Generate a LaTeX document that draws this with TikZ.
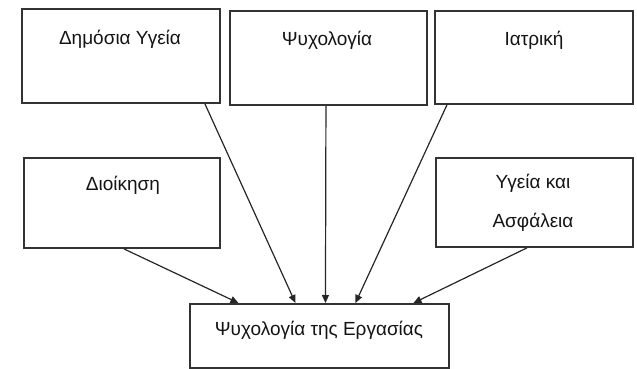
\documentclass[tikz,border=0pt]{standalone}
\usepackage{fontspec}
\setmainfont{Liberation Sans}
\usetikzlibrary{arrows.meta}
\begin{document}
\begin{tikzpicture}[x=1pt,y=-1pt,
  box/.style={draw=black!80, line width=1.9pt, rectangle, inner sep=0pt, anchor=north west},
  lbl/.style={font=\fontsize{19}{23}\selectfont, text=black!92, anchor=base, inner sep=0pt},
  conn/.style={draw=black!85, line width=1.2pt, -{Triangle[length=8pt,width=7pt]}}]
\useasboundingbox (0,0) rectangle (637,369);
\node[box, minimum width=198pt, minimum height=94pt] (A) at (21,8) {};
\node[box, minimum width=197pt, minimum height=94pt] (B) at (229,10) {};
\node[box, minimum width=198pt, minimum height=93pt] (C) at (434,10) {};
\node[box, minimum width=196pt, minimum height=90pt] (D) at (23,157) {};
\node[box, minimum width=197pt, minimum height=89pt] (E) at (435,157) {};
\node[box, minimum width=259pt, minimum height=64pt] (F) at (189,303) {};
\node[lbl] (tA) at (120,45) {Δημόσια Υγεία};
\node[lbl] (tB) at (327,46) {Ψυχολογία};
\node[lbl] (tC) at (534,46) {Ιατρική};
\node[lbl] (tD) at (123,190) {Διοίκηση};
\node[lbl] (tE1) at (533,188) {Υγεία και};
\node[lbl] (tE2) at (533,227) {Ασφάλεια};
\node[lbl] (tF) at (319,335) {Ψυχολογία της Εργασίας};
\draw[conn] ([xshift=84pt]A.south) -- ([xshift=-24pt]F.north);
\draw[conn] ([xshift=-2.5pt]B.south) -- ([xshift=6pt]F.north);
\draw[conn] ([xshift=-87pt]C.south) -- ([xshift=36pt]F.north);
\draw[conn] ([xshift=2pt]D.south) -- ([xshift=-81pt]F.north);
\draw[conn] ([xshift=-7.5pt]E.south) -- ([xshift=94pt]F.north);
\end{tikzpicture}
\end{document}
